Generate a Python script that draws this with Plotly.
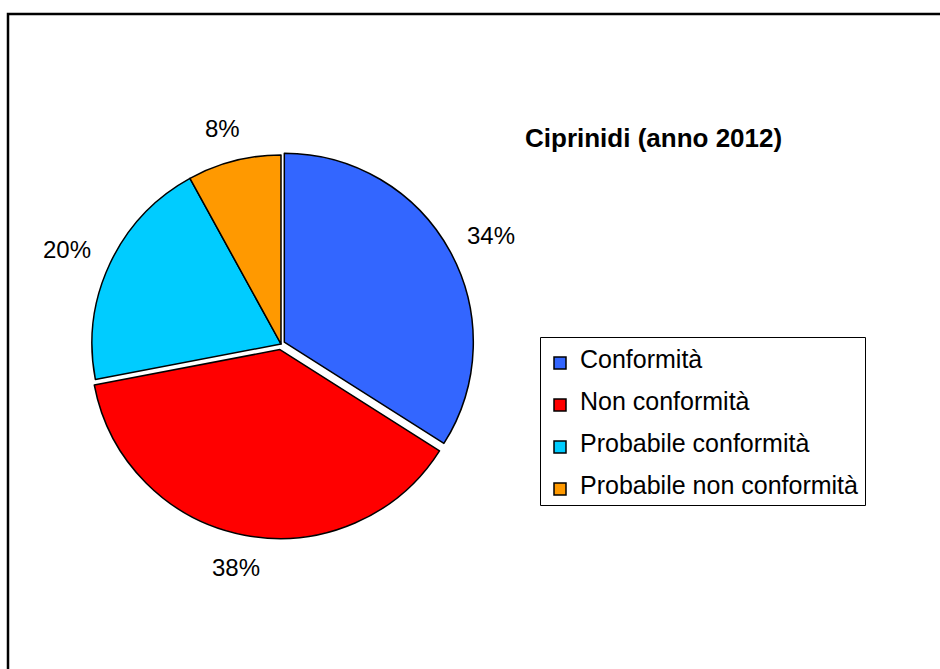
import math
import plotly.graph_objects as go

# ---- data ----
categories = ["Conformità", "Non conformità", "Probabile conformità", "Probabile non conformità"]
values = [34, 38, 20, 8]
colors = ["#3366FF", "#FF0000", "#00CCFF", "#FF9900"]
pulls = [0.02, 0.03, 0.0, 0.0]
title_text = "Ciprinidi (anno 2012)"

W, H = 940, 669
FONT = "Liberation Sans, Arial, sans-serif"

# pie geometry (pixels)
cx, cy = 281, 344
r = 189
half = r * (1 + max(pulls))

legend_labels = [f'<span style="font-size:25px;baseline-shift:7px">{c}</span>' for c in categories]

fig = go.Figure()
fig.add_trace(go.Pie(
    labels=legend_labels,
    values=values,
    customdata=categories,
    marker=dict(colors=colors, line=dict(color="black", width=1.5)),
    pull=pulls,
    sort=False,
    direction="clockwise",
    rotation=0,
    textinfo="none",
    hovertemplate="%{customdata}: %{percent}<extra></extra>",
    domain=dict(x=[(cx - half) / W, (cx + half) / W],
                y=[(H - cy - half) / H, (H - cy + half) / H]),
))

# percentage labels placed outside the slices, computed from the data
total = sum(values)
cum = 0
annotations = []
for v, p in zip(values, pulls):
    mid = (cum + v / 2) / total * 2 * math.pi
    cum += v
    rx = 236 + p * r
    ry = 222 + p * r
    px = cx + rx * math.sin(mid)
    py = cy - ry * math.cos(mid)
    annotations.append(dict(
        x=px / W, y=1 - py / H, xref="paper", yref="paper",
        text=f"{round(v / total * 100)}%", showarrow=False,
        xanchor="center", yanchor="middle",
        font=dict(family=FONT, size=24, color="black"),
    ))

annotations.append(dict(
    x=653 / W, y=1 - 138 / H, xref="paper", yref="paper",
    text=f"<b>{title_text}</b>", showarrow=False,
    xanchor="center", yanchor="middle",
    font=dict(family=FONT, size=26, color="black"),
))

fig.update_layout(
    width=W, height=H,
    margin=dict(l=0, r=0, t=0, b=0),
    paper_bgcolor="white",
    plot_bgcolor="white",
    showlegend=True,
    legend=dict(
        x=540 / W, y=1 - 337 / H, xanchor="left", yanchor="top",
        borderwidth=0, bgcolor="rgba(0,0,0,0)",
        font=dict(family=FONT, size=30, color="black"),
        itemwidth=30,
    ),
    annotations=annotations,
    shapes=[
        dict(
            type="rect", xref="paper", yref="paper",
            x0=8 / W, y0=1 - 14 / H, x1=1.2, y1=-0.2,
            line=dict(color="black", width=2.5), fillcolor="rgba(0,0,0,0)",
            layer="above",
        ),
        dict(
            type="rect", xref="paper", yref="paper",
            x0=540.5 / W, y0=1 - 337.5 / H, x1=865.5 / W, y1=1 - 505.5 / H,
            line=dict(color="black", width=1), fillcolor="white",
            layer="below",
        ),
    ],
)

fig.write_html("out.html")
